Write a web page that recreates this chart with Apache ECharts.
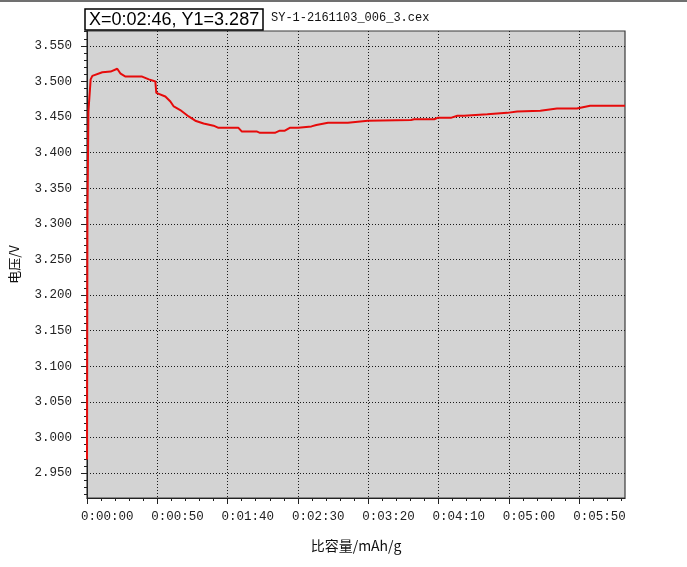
<!DOCTYPE html>
<html><head><meta charset="utf-8">
<script src="https://cdn.jsdelivr.net/npm/echarts@6/dist/echarts.min.js"></script>
<style>html,body{margin:0;padding:0;background:#fff}#c{width:687px;height:567px}</style>
</head><body><div id="c"></div>
<script>
// time (s) and voltage (V)
const times = [0, 0.3, 1.0, 2.6, 3.8, 10.9, 16.8, 21.5, 23.9, 27.4, 39.2, 44.0, 48.6, 49.3, 55.7, 59.3, 61.7, 66.3, 72.3, 77.0, 82.9, 90.0, 93.5, 107.7, 110.0, 120.6, 123.0, 133.6, 137.1, 140.7, 144.2, 150.2, 159.6, 163.1, 171.4, 176.1, 185.5, 199.7, 230.4, 232.7, 246.9, 249.3, 258.7, 263.4, 268.1, 284.7, 298.8, 305.9, 322.4, 334.2, 348.4, 357.8, 382.6];
const volts = [2.969, 3.310, 3.458, 3.503, 3.508, 3.513, 3.514, 3.518, 3.511, 3.507, 3.507, 3.503, 3.500, 3.484, 3.479, 3.472, 3.465, 3.460, 3.451, 3.445, 3.441, 3.438, 3.435, 3.435, 3.430, 3.430, 3.428, 3.428, 3.431, 3.431, 3.435, 3.435, 3.437, 3.439, 3.442, 3.442, 3.442, 3.445, 3.446, 3.447, 3.447, 3.449, 3.449, 3.452, 3.452, 3.454, 3.456, 3.458, 3.459, 3.462, 3.462, 3.466, 3.466];

const xMajorTicks = [0, 50, 100, 150, 200, 250, 300, 350];
const xMinorTicks = [0,10,20,30,40,50,60,70,80,90,100,110,120,130,140,150,160,170,180,190,200,210,220,230,240,250,260,270,280,290,300,310,320,330,340,350,360,370,380];
const yMajorTicks = [2.95, 3.00, 3.05, 3.10, 3.15, 3.20, 3.25, 3.30, 3.35, 3.40, 3.45, 3.50, 3.55];
const yMinorTicks = [2.92,2.93,2.94,2.95,2.96,2.97,2.98,2.99,3.00,3.01,3.02,3.03,3.04,3.05,3.06,3.07,3.08,3.09,3.10,3.11,3.12,3.13,3.14,3.15,3.16,3.17,3.18,3.19,3.20,3.21,3.22,3.23,3.24,3.25,3.26,3.27,3.28,3.29,3.30,3.31,3.32,3.33,3.34,3.35,3.36,3.37,3.38,3.39,3.40,3.41,3.42,3.43,3.44,3.45,3.46,3.47,3.48,3.49,3.50,3.51,3.52,3.53,3.54,3.55,3.56,3.57];
const xMin = 0, xMax = 382.6, yMin = 2.915, yMax = 3.571;

const titleText = 'X=0:02:46, Y1=3.287';
const fileText = 'SY-1-2161103_006_3.cex';
const xName = '比容量/mAh/g';
const yName = '电压/V';

function fmtTime(s) {
  s = Math.round(s);
  const h = Math.floor(s / 3600), m = Math.floor((s % 3600) / 60), sec = s % 60;
  return h + ':' + String(m).padStart(2, '0') + ':' + String(sec).padStart(2, '0');
}

const mono = 'Liberation Mono';
const dotted = { color: '#1a1a1a', type: [1, 2], width: 1 };

const chart = echarts.init(document.getElementById('c'), null, { renderer: 'canvas' });
chart.setOption({
  animation: false,
  backgroundColor: '#fff',
  graphic: [{ type: 'rect', shape: { x: 0, y: 0, width: 687, height: 2 }, style: { fill: '#707070' } }],
  title: [
    { text: titleText, left: 85, top: 9, padding: [2, 4, 1, 4], borderColor: '#000', borderWidth: 1.5,
      textStyle: { fontFamily: 'Liberation Sans', fontSize: 18, fontWeight: 'normal', color: '#000', lineHeight: 18 } },
    { text: fileText, left: 271, top: 11, padding: 0,
      textStyle: { fontFamily: mono, fontSize: 12, fontWeight: 'normal', color: '#111', lineHeight: 13 } }
  ],
  grid: { left: 85, top: 31, width: 540, height: 467, show: true, backgroundColor: '#d3d3d3', borderColor: '#3a3a3a', borderWidth: 1.2 },
  xAxis: [
    { type: 'value', min: xMin, max: xMax, position: 'bottom',
      name: xName, nameLocation: 'middle', nameGap: 41,
      nameTextStyle: { fontFamily: 'Noto Sans CJK SC', fontSize: 14, color: '#111' },
      axisLine: { show: true, onZero: false, lineStyle: { color: '#222', width: 1 } },
      axisTick: { show: true, length: 6, customValues: xMajorTicks, lineStyle: { color: '#222' } },
      axisLabel: { show: true, customValues: xMajorTicks, formatter: fmtTime, align: 'left', padding: [0, 0, 0, -6], margin: 12,
        fontFamily: mono, fontSize: 12.5, color: '#222' },
      splitLine: { show: true, customValues: xMajorTicks, lineStyle: dotted } },
    { type: 'value', min: xMin, max: xMax, position: 'bottom',
      axisLine: { show: false, onZero: false },
      axisTick: { show: true, length: 3, customValues: xMinorTicks, lineStyle: { color: '#222' } },
      axisLabel: { show: false }, splitLine: { show: false } }
  ],
  yAxis: [
    { type: 'value', min: yMin, max: yMax, position: 'left',
      name: yName, nameLocation: 'middle', nameGap: 66, nameRotate: 90,
      nameTextStyle: { fontFamily: 'Noto Sans CJK SC', fontSize: 13, color: '#111' },
      axisLine: { show: true, onZero: false, lineStyle: { color: '#222', width: 1 } },
      axisTick: { show: true, length: 6, customValues: yMajorTicks, lineStyle: { color: '#222' } },
      axisLabel: { show: true, customValues: yMajorTicks, formatter: v => v.toFixed(3), margin: 15,
        fontFamily: mono, fontSize: 12.5, color: '#222' },
      splitLine: { show: true, customValues: yMajorTicks, lineStyle: dotted } },
    { type: 'value', min: yMin, max: yMax, position: 'left',
      axisLine: { show: false, onZero: false },
      axisTick: { show: true, length: 3, customValues: yMinorTicks, lineStyle: { color: '#222' } },
      axisLabel: { show: false }, splitLine: { show: false } }
  ],
  series: [{
    type: 'line', xAxisIndex: 0, yAxisIndex: 0, showSymbol: false, symbol: 'none',
    lineStyle: { color: '#e60b0b', width: 2 },
    data: times.map((t, i) => [t, volts[i]])
  }]
});
</script>
</body></html>
